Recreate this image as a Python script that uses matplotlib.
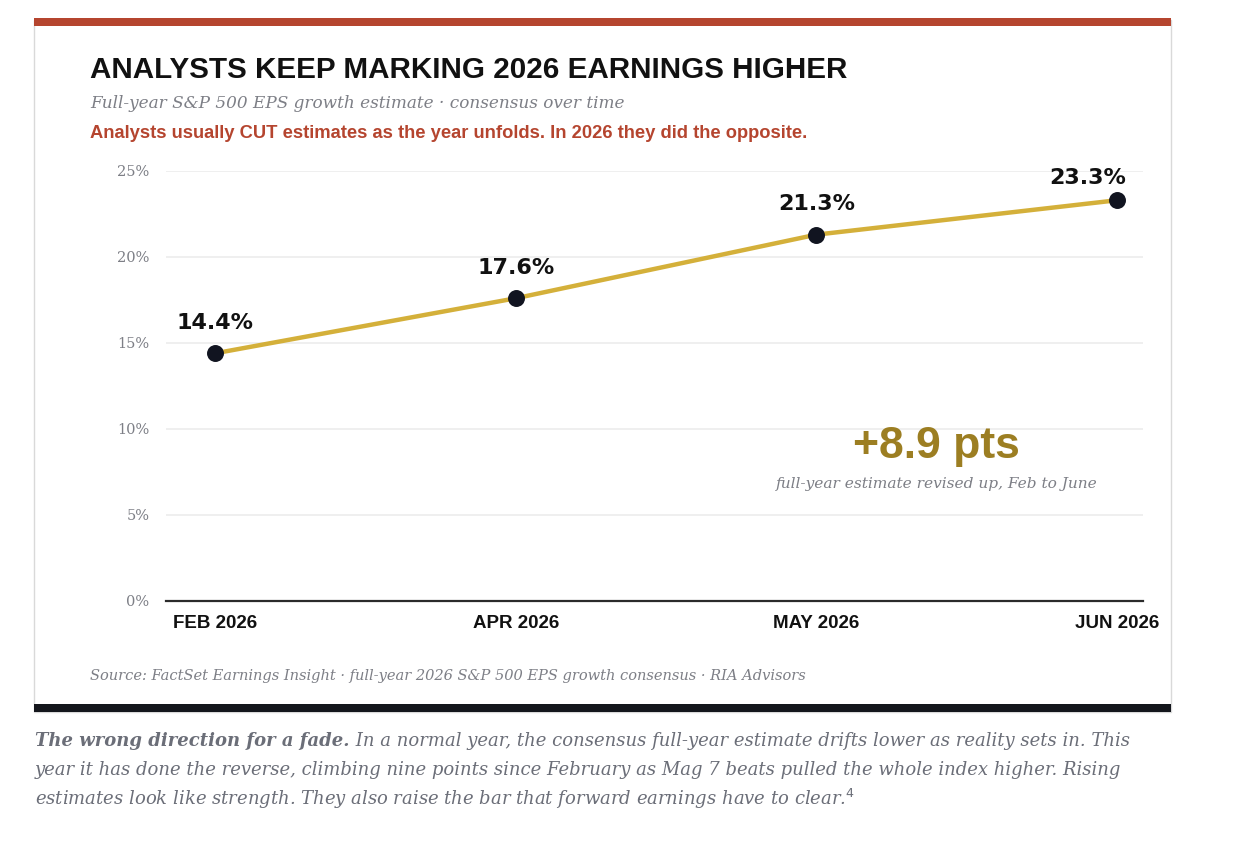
import matplotlib
matplotlib.use("Agg")
import matplotlib.pyplot as plt
from matplotlib.patches import Rectangle

# data
months = ["FEB 2026", "APR 2026", "MAY 2026", "JUN 2026"]
eps_growth = [14.4, 17.6, 21.3, 23.3]
y_ticks = [0, 5, 10, 15, 20, 25]

title = "ANALYSTS KEEP MARKING 2026 EARNINGS HIGHER"
subtitle = "Full-year S&P 500 EPS growth estimate · consensus over time"
redline = "Analysts usually CUT estimates as the year unfolds. In 2026 they did the opposite."
source = "Source: FactSet Earnings Insight · full-year 2026 S&P 500 EPS growth consensus · RIA Advisors"
callout = "+8.9 pts"
callout_sub = "full-year estimate revised up, Feb to June"
cap_bold = "The wrong direction for a fade."
cap_lines = [" In a normal year, the consensus full-year estimate drifts lower as reality sets in. This",
             "year it has done the reverse, climbing nine points since February as Mag 7 beats pulled the whole index higher. Rising",
             "estimates look like strength. They also raise the bar that forward earnings have to clear.$^4$"]

W, H = 1238, 848
fig = plt.figure(figsize=(W / 100, H / 100), dpi=100)
fig.patch.set_facecolor("white")

def fx(px):
    return px / W

def fy(py):
    return 1 - py / H

SERIF = ["DejaVu Serif"]
SANS = ["Liberation Sans", "DejaVu Sans"]
HEAVY = ["DejaVu Sans"]
NARROW = ["Liberation Sans Narrow", "Liberation Sans", "DejaVu Sans"]
GRAY = "#7d7f86"

# card
fig.patches.append(Rectangle((fx(34), fy(712)), fx(1171) - fx(34), fy(20) - fy(712),
                             transform=fig.transFigure, facecolor="white",
                             edgecolor="#d9d9d9", lw=1.0, zorder=-2))
fig.patches.append(Rectangle((fx(34), fy(26)), fx(1171) - fx(34), fy(18) - fy(26),
                             transform=fig.transFigure, facecolor="#b5452f", lw=0, zorder=-1))
fig.patches.append(Rectangle((fx(34), fy(712)), fx(1171) - fx(34), fy(704) - fy(712),
                             transform=fig.transFigure, facecolor="#14161c", lw=0, zorder=-1))

# texts in header
fig.text(fx(90), fy(70), title, family=SANS, weight="bold", fontsize=21.3,
         color="#111111", va="center", ha="left")
fig.text(fx(90), fy(104), subtitle, family=SERIF, style="italic", fontsize=12.2,
         color=GRAY, va="center", ha="left")
fig.text(fx(90), fy(134), redline, family=SANS, weight="bold", fontsize=13.2,
         color="#b5452f", va="center", ha="left")

# axes
ax = fig.add_axes([fx(166), fy(601), fx(1143) - fx(166), fy(171) - fy(601)])
ax.set_zorder(2)
x = list(range(len(months)))
ax.set_xlim(-0.163, 3.086)
ax.set_ylim(0, 25)
for t in y_ticks[1:]:
    ax.axhline(t, color="#ececec", lw=1.2, zorder=1)
ax.axhline(0, color="#2b2b2b", lw=1.6, zorder=2, clip_on=False)
ax.plot(x, eps_growth, color="#d4b03a", lw=3.2, zorder=3, solid_capstyle="butt")
ax.scatter(x, eps_growth, s=125, color="#111420", zorder=4, clip_on=False)
for i, (xi, v) in enumerate(zip(x, eps_growth)):
    # last label is pulled in so it stays inside the card
    off = (-21, 16) if i == len(x) - 1 else (0, 22)
    ax.annotate(f"{v:.1f}%", (xi, v), xytext=off, textcoords="offset points",
                ha="center", va="center", family=HEAVY, weight="bold",
                fontsize=16, color="#111111", annotation_clip=False)

ax.set_yticks(y_ticks)
ax.set_yticklabels([f"{t}%" for t in y_ticks], family=SERIF, fontsize=10.5, color=GRAY)
ax.set_xticks(x)
ax.set_xticklabels(months, family=NARROW, weight="bold", fontsize=13.5, color="#111111")
ax.tick_params(axis="y", length=0, pad=12)
ax.tick_params(axis="x", length=0, pad=10)
for s in ax.spines.values():
    s.set_visible(False)
ax.patch.set_visible(False)

# callout
ax.text(2.4, 9.0, callout, family=SANS, weight="bold", fontsize=32,
        color="#9c7e22", ha="center", va="center")
ax.text(2.4, 6.8, callout_sub, family=SERIF, style="italic", fontsize=11.1,
        color=GRAY, ha="center", va="center")

# source
fig.text(fx(90), fy(676), source, family=SERIF, style="italic", fontsize=10.5,
         color=GRAY, va="center", ha="left")

# caption below card
fig.canvas.draw()
r = fig.canvas.get_renderer()
cap_color = "#6b6e78"
cs = 13
b = fig.text(fx(35), fy(741), cap_bold, family=SERIF, style="italic", weight="bold",
             fontsize=cs, color=cap_color, va="center", ha="left")
bb = b.get_window_extent(r)
fig.text(bb.x1 / W, fy(741), cap_lines[0], family=SERIF, style="italic",
         fontsize=cs, color=cap_color, va="center", ha="left")
fig.text(fx(35), fy(770), cap_lines[1], family=SERIF, style="italic",
         fontsize=cs, color=cap_color, va="center", ha="left")
fig.text(fx(35), fy(799), cap_lines[2], family=SERIF, style="italic",
         fontsize=cs, color=cap_color, va="center", ha="left")

fig.savefig("out.png", dpi=100)
